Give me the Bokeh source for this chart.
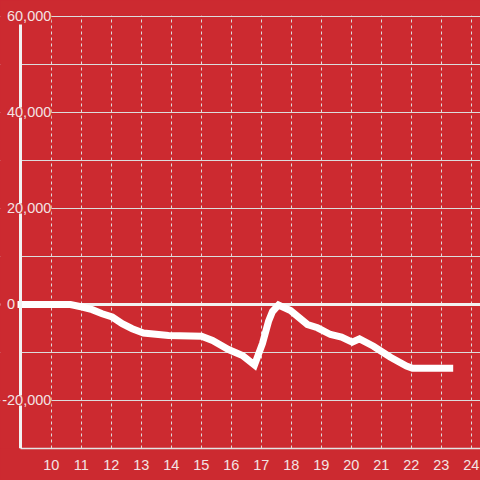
from bokeh.plotting import figure
from bokeh.models import (ColumnDataSource, FixedTicker, Span, LabelSet, Range1d,
                          BoxAnnotation, GlobalInlineStyleSheet)
from bokeh.core.properties import value
from bokeh.embed import file_html
from bokeh.resources import INLINE

# ---- data ----
hours = [8.877, 10.643, 11.033, 11.367, 11.700, 12.033, 12.367, 12.700, 13.077,
         13.910, 15.010, 15.377, 15.910, 16.377, 16.777, 17.043, 17.243, 17.377,
         17.577, 17.977, 18.543, 18.877, 19.310, 19.677, 20.033, 20.277, 20.743,
         21.310, 21.843, 22.043, 23.400]
values = [0, 0, -520, -1080, -1920, -2600, -4000, -5040, -5940,
          -6460, -6600, -7500, -9380, -10630, -12600, -8130, -3540, -1460,
          -100, -1250, -4170, -4850, -6250, -6810, -7850, -7150, -8690,
          -10980, -12810, -13270, -13270]

x_ticks = list(range(10, 25))
x_tick_labels = [str(t) for t in x_ticks]
y_ticks = [60000, 40000, 20000, 0, -20000]
y_tick_labels = ["60,000", "40,000", "20,000", "0", "-20,000"]
y_grid_ticks = list(range(-20000, 60001, 10000))

BG = "#cc2a30"
GRID = "#dcdcdc"
TXT = "#f3e3e3"
FONT = "Liberation Sans"
FS = "14.5px"

x_start, x_end = 8.31, 24.31
y_start, y_end = -30000, 63333
axis_x = 8.993          # where the vertical axis sits
axis_top = 58333        # the vertical axis line stops a little below the top grid line

p = figure(width=480, height=480, output_backend="svg", toolbar_location=None,
           x_range=Range1d(x_start, x_end), y_range=Range1d(y_start, y_end),
           min_border_left=0, min_border_right=0, min_border_top=0,
           min_border_bottom=32, background_fill_color=BG, border_fill_color=BG,
           outline_line_color=None)
p.stylesheets = [GlobalInlineStyleSheet(
    css="html,body{margin:0;padding:0;background:%s;}" % BG)]

# x axis
p.xaxis.ticker = FixedTicker(ticks=x_ticks)
p.xaxis.major_label_overrides = {t: s for t, s in zip(x_ticks, x_tick_labels)}
p.xaxis.bounds = (axis_x, x_end)
p.xaxis.major_tick_line_color = None
p.xaxis.minor_tick_line_color = None
p.xaxis.axis_line_color = "#e4e4e4"
p.xaxis.axis_line_width = 1.5
p.xaxis.major_label_standoff = 5
p.xaxis.major_label_text_font = FONT
p.xaxis.major_label_text_font_size = FS
p.xaxis.major_label_text_color = TXT

# y axis (line only, placed inside the frame; labels drawn below)
p.yaxis.ticker = FixedTicker(ticks=[])
p.yaxis.fixed_location = axis_x
p.yaxis.bounds = (y_start, axis_top)
p.yaxis.axis_line_color = "#f2f2f2"
p.yaxis.axis_line_width = 3
p.yaxis.major_tick_line_color = None
p.yaxis.minor_tick_line_color = None

# grids
p.xgrid.ticker = FixedTicker(ticks=x_ticks)
p.xgrid.grid_line_color = GRID
p.xgrid.grid_line_width = 1
p.xgrid.grid_line_dash = "3 3"
p.ygrid.ticker = FixedTicker(ticks=y_grid_ticks)
p.ygrid.grid_line_color = GRID
p.ygrid.grid_line_width = 1

# zero line
p.add_layout(Span(location=0, dimension="width", line_color="#f2f2f2",
                  line_width=3, level="underlay"))

# keep grid out of the margins left of the axis and above the top grid line
p.add_layout(BoxAnnotation(right=axis_x, fill_color=BG, fill_alpha=1,
                           line_color=None, level="underlay"))
p.add_layout(BoxAnnotation(bottom=max(y_grid_ticks) + 150, fill_color=BG,
                           fill_alpha=1, line_color=None, level="underlay"))

# data line
p.line(hours, values, line_color="white", line_width=7, line_join="miter")

# y tick labels with red background, drawn over the grid
minus_w = 4.8
lab_src = ColumnDataSource(dict(
    x=[axis_x] * len(y_ticks), y=y_ticks, text=y_tick_labels,
    dx=[-14 - (minus_w if s.startswith("-") else 0) for s in y_tick_labels]))
p.add_layout(LabelSet(x="x", y="y", text="text", x_offset="dx", source=lab_src,
                      text_align="left", text_baseline="middle",
                      text_font=value(FONT), text_font_size=value(FS),
                      text_color=TXT, background_fill_color=BG))

open("out.html", "w").write(file_html(p, INLINE))
